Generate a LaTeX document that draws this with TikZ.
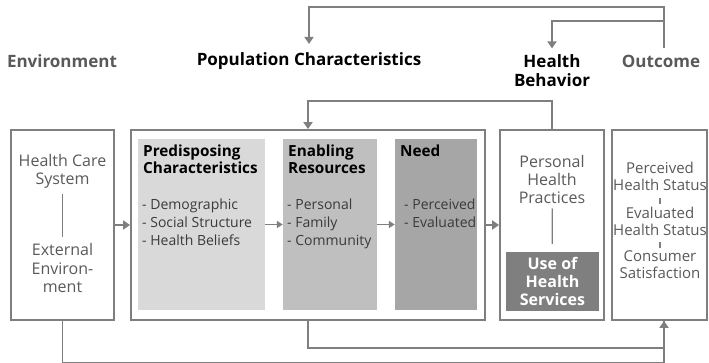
\documentclass[tikz,border=0pt]{standalone}
\usepackage{fontspec}
\setmainfont{Open Sans}
\usetikzlibrary{arrows.meta, positioning, calc}
\definecolor{linegray}{HTML}{7F7F7F}
\definecolor{txtgray}{HTML}{595959}
\definecolor{listgray}{HTML}{3A3A3A}
\definecolor{predfill}{HTML}{D9D9D9}
\definecolor{enabfill}{HTML}{BFBFBF}
\definecolor{needfill}{HTML}{A6A6A6}
\definecolor{usefill}{HTML}{7F7F7F}

\begin{document}
\begin{tikzpicture}[x=1pt, y=-1pt,
    frame/.style={draw=linegray, line width=1.8pt, inner sep=0pt},
    panel/.style={fill=#1, inner sep=0pt},
    title/.style={font=\fontsize{17}{19}\selectfont\bfseries, align=center},
    txt/.style={font=\fontsize{16}{18}\selectfont, text=txtgray, align=center, inner sep=1pt},
    head/.style={font=\fontsize{15.3}{16.5}\selectfont\bfseries, align=left, inner sep=0pt},
    items/.style={font=\fontsize{14}{18}\selectfont, text=listgray, align=left, inner sep=0pt},
    small/.style={font=\fontsize{15}{17}\selectfont, text=txtgray, align=center, inner sep=1pt},
    conn/.style={draw=linegray, line width=1.8pt},
    tick/.style={draw=linegray, line width=1.2pt},
    arr/.style={conn, -{Triangle[length=7pt, width=9pt]}}]
    \useasboundingbox (0,0) rectangle (709,363);

    % column titles
    \node[title, text=txtgray] (tEnv) at (62,61) {Environment};
    \node[title] (tPop) at (309,61) {Population Characteristics};
    \node[title] (tHB) at (552,71) {Health\\Behavior};
    \node[title, text=txtgray] (tOut) at (661,61) {Outcome};

    % frames
    \node[frame, minimum width=103pt, minimum height=190pt] (env) at (62.5,225) {};
    \node[frame, minimum width=354pt, minimum height=190pt] (pop) at (308,225) {};
    \node[frame, minimum width=104pt, minimum height=190pt] (hb) at (552,225) {};
    \node[frame, minimum width=95pt, minimum height=190pt] (out) at (659.5,225) {};

    % population characteristics panels
    \node[panel=predfill, minimum width=127pt, minimum height=171pt] (pred) at (201.5,224.5) {};
    \node[panel=enabfill, minimum width=94pt, minimum height=171pt] (enab) at (330,224.5) {};
    \node[panel=needfill, minimum width=82pt, minimum height=171pt] (need) at (436,224.5) {};
    \node[panel=usefill, minimum width=93pt, minimum height=59pt, text=white, align=center,
          font=\fontsize{16}{18}\selectfont\bfseries] (use) at (552.5,281.5) {Use of\\Health\\Services};

    % environment
    \node[txt] (hcs) at (62.5,171) {Health Care\\System};
    \node[txt] (ext) at (62.5,268) {External\\Environ-\\ment};
    \draw[tick, shorten <=5pt, shorten >=6pt] (hcs) -- (ext);

    % panel texts
    \node[head, anchor=north west] (predT) at (143,145) {Predisposing\\Characteristics};
    \node[items, anchor=north west] (predL) at (142,199) {- Demographic\\- Social Structure\\- Health Beliefs};
    \node[head, anchor=north west] (enabT) at (288,145) {Enabling\\Resources};
    \node[items, anchor=north west] (enabL) at (287,199) {- Personal\\- Family\\- Community};
    \node[head, anchor=north west] (needT) at (400,145) {Need};
    \node[items, anchor=north west] (needL) at (404,199) {- Perceived\\- Evaluated};

    % health behavior
    \node[txt] (php) at (552,180) {Personal\\Health\\Practices};
    \draw[tick, shorten <=3pt, shorten >=8pt] (php) -- (use);

    % outcome
    \node[small] (phs) at (660,176.5) {Perceived\\Health Status};
    \node[small] (ehs) at (660,221) {Evaluated\\Health Status};
    \node[small] (cs) at (660,264.5) {Consumer\\Satisfaction};
    \draw[tick] ($(phs)!0.55!(ehs)+(0,-3)$) -- ++(0,6);
    \draw[tick] ($(ehs)!0.55!(cs)+(0,-3)$) -- ++(0,6);

    % flow arrows
    \draw[arr] (env.east) -- (pop.west);
    \draw[arr, line width=1.5pt, -{Triangle[length=6pt, width=7pt]}] (pred.east) -- (enab.west);
    \draw[arr, line width=1.5pt, -{Triangle[length=6pt, width=7pt]}] (enab.east) -- (need.west);
    \draw[arr] (pop.east) -- (hb.west);

    % feedback loops
    \coordinate (outTop) at (664,48);
    \coordinate (outIn) at ([xshift=4.5pt]out.south);
    \draw[arr, shorten >=5pt] (outTop) -- (664,7) -| (tPop.north);
    \draw[arr, shorten >=3pt] (664,21) -| (tHB.north);
    \draw[arr] (hb.north) -- ++(0,-28) -| (pop.north);
    \draw[conn] (pop.south) -- ++(0,27) -| (outIn);
    \draw[arr] (env.south) -- ++(0,42) -| (outIn);
\end{tikzpicture}
\end{document}
